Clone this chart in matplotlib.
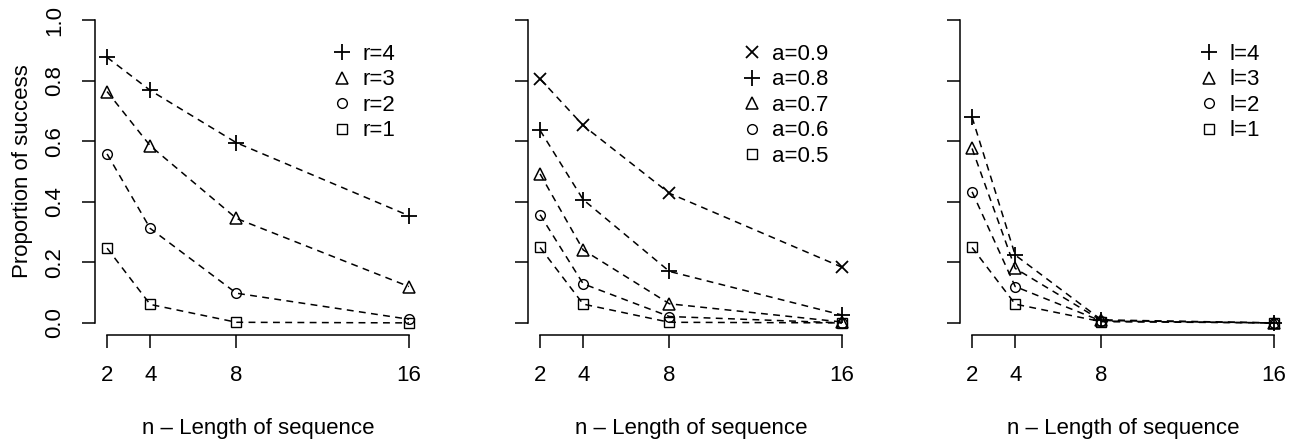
import numpy as np
import matplotlib
matplotlib.use("Agg")
import matplotlib.pyplot as plt
from matplotlib.lines import Line2D

plt.rcParams['font.family'] = ['Liberation Sans', 'DejaVu Sans']

n = [2, 4, 8, 16]

# panel 1: r
r_labels = ['r=4', 'r=3', 'r=2', 'r=1']
r4 = [0.877, 0.768, 0.595, 0.354]
r3 = [0.764, 0.585, 0.345, 0.12]
r2 = [0.558, 0.312, 0.098, 0.012]
r1 = [0.247, 0.061, 0.002, 0.0]

# panel 2: a
a_labels = ['a=0.9', 'a=0.8', 'a=0.7', 'a=0.6', 'a=0.5']
a9 = [0.806, 0.652, 0.428, 0.184]
a8 = [0.636, 0.407, 0.17, 0.026]
a7 = [0.492, 0.241, 0.063, 0.003]
a6 = [0.357, 0.129, 0.021, 0.0]
a5 = [0.249, 0.062, 0.002, 0.0]

# panel 3: l
l_labels = ['l=4', 'l=3', 'l=2', 'l=1']
l4 = [0.679, 0.224, 0.01, 0.0]
l3 = [0.576, 0.18, 0.008, 0.0]
l2 = [0.433, 0.12, 0.006, 0.0]
l1 = [0.249, 0.062, 0.004, 0.0]

# R pch style markers
sty = {
    'x': dict(marker='x', ms=9, mew=1.3),
    'plus': dict(marker='+', ms=12, mew=1.3),
    'tri': dict(marker='^', ms=9, mew=1.1, mfc='none'),
    'circ': dict(marker='o', ms=7, mew=1.0, mfc='none'),
    'sq': dict(marker='s', ms=7.5, mew=1.0, mfc='none'),
}

panels = [
    ([r4, r3, r2, r1], r_labels, ['plus', 'tri', 'circ', 'sq']),
    ([a9, a8, a7, a6, a5], a_labels, ['x', 'plus', 'tri', 'circ', 'sq']),
    ([l4, l3, l2, l1], l_labels, ['plus', 'tri', 'circ', 'sq']),
]

W, H = 1294, 442
fig = plt.figure(figsize=(W / 100, H / 100), dpi=100)
lefts = [95, 528, 960]
fs = 16

for i, (series, labels, marks) in enumerate(panels):
    ax = fig.add_axes([lefts[i] / W, (H - 335) / H, 326 / W, 327 / H])
    for ys, m in zip(series, marks):
        ax.plot(n, ys, color='black', ls=(0, (4.5, 3.5)), lw=1.1, mec='black', **sty[m])
    handles = [Line2D([], [], color='black', ls='none', mec='black', **sty[m]) for m in marks]
    ax.legend(handles, labels, loc='upper right', bbox_to_anchor=(0.92, 0.89), frameon=False,
              fontsize=fs, handlelength=1.0, handletextpad=0.4, labelspacing=0.2,
              borderaxespad=0, borderpad=0)
    ax.set_xlim(2 - 0.56, 16 + 0.56)
    ax.set_ylim(-0.04, 1.04)
    ax.set_xticks(n)
    ax.set_yticks([0, 0.2, 0.4, 0.6, 0.8, 1.0])
    ax.spines['top'].set_visible(False)
    ax.spines['right'].set_visible(False)
    ax.spines['left'].set_bounds(0, 1)
    ax.spines['bottom'].set_bounds(2, 16)
    for s in ('left', 'bottom'):
        ax.spines[s].set_linewidth(1.1)
    ax.tick_params(length=9.5, width=1.1, labelsize=fs, pad=12)
    ax.set_xlabel('n \u2013 Length of sequence', fontsize=fs, labelpad=23)
    if i == 0:
        ax.set_yticklabels(['0.0', '0.2', '0.4', '0.6', '0.8', '1.0'], rotation=90, va='center')
        ax.set_ylabel('Proportion of success', fontsize=fs, labelpad=8)
    else:
        ax.set_yticklabels([])

fig.savefig('out.png', dpi=100)
